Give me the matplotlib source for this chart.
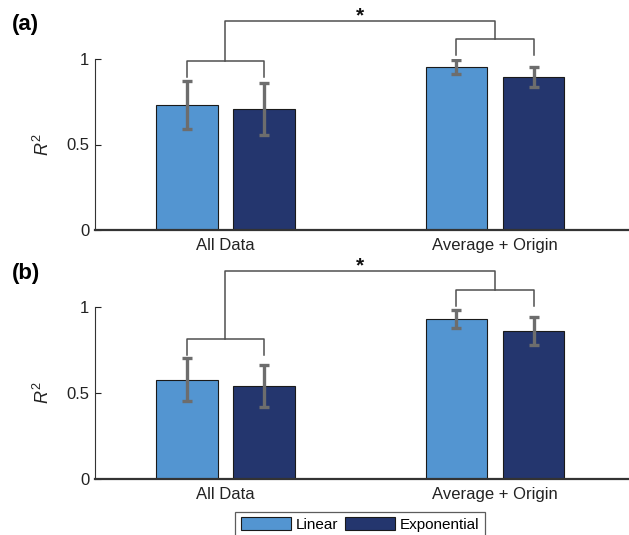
import numpy as np
import matplotlib
matplotlib.use("Agg")
import matplotlib.pyplot as plt

plt.rcParams['font.family'] = ['Liberation Sans', 'DejaVu Sans']
plt.rcParams['mathtext.fontset'] = 'custom'
plt.rcParams['mathtext.rm'] = 'Liberation Sans'
plt.rcParams['mathtext.it'] = 'Liberation Sans:italic'

# data
groups = ["All Data", "Average + Origin"]
series = ["Linear", "Exponential"]
colors = ["#5395d1", "#24366e"]

a_linear = [0.731, 0.953]
a_linear_err = [0.142, 0.042]
a_expo = [0.708, 0.895]
a_expo_err = [0.154, 0.060]

b_linear = [0.578, 0.934]
b_linear_err = [0.124, 0.052]
b_expo = [0.543, 0.864]
b_expo_err = [0.123, 0.082]

# significance brackets: pair brackets, their leg bottoms, joining bracket
a_brackets = dict(left=0.990, left_leg=0.896, right=1.115, right_leg=1.023, top=1.224)
b_brackets = dict(left=0.815, left_leg=0.722, right=1.103, right_leg=1.005, top=1.212)

W, H = 629, 535
fig = plt.figure(figsize=(W / 100, H / 100), dpi=100)

off = 0.143
width = 0.229
err_col = "#6d6d6d"
br_col = "#505050"


def panel(ax, lin, lin_err, exp, exp_err, br, tag):
    x = np.arange(1, len(groups) + 1)
    ax.bar(x - off, lin, width, color=colors[0], edgecolor="#1a1a1a", linewidth=0.8, label=series[0], zorder=2)
    ax.bar(x + off, exp, width, color=colors[1], edgecolor="#1a1a1a", linewidth=0.8, label=series[1], zorder=2)
    ax.errorbar(x - off, lin, yerr=lin_err, fmt="none", ecolor=err_col, elinewidth=2.4,
                capsize=3.8, capthick=2.4, zorder=3)
    ax.errorbar(x + off, exp, yerr=exp_err, fmt="none", ecolor=err_col, elinewidth=2.4,
                capsize=3.8, capthick=2.4, zorder=3)

    ax.set_xlim(0.516, 2.497)
    ax.set_ylim(0, 1)
    ax.set_yticks([0, 0.5, 1])
    ax.set_yticklabels(["0", "0.5", "1"])
    ax.set_xticks(x)
    ax.set_xticklabels(groups)
    ax.tick_params(axis="y", direction="in", length=4, width=0.8, pad=4, labelsize=12, colors="#222222")
    ax.tick_params(axis="x", length=0, pad=6, labelsize=12, colors="#222222")
    for s in ["top", "right"]:
        ax.spines[s].set_visible(False)
    ax.spines["left"].set_color("#333333")
    ax.spines["left"].set_linewidth(0.8)
    ax.spines["bottom"].set_color("#333333")
    ax.spines["bottom"].set_linewidth(1.6)

    ax.set_ylabel("$\\it{R}^2$", fontsize=13, color="#222222")
    ax.yaxis.set_label_coords(-0.078, 0.5)

    kw = dict(color=br_col, lw=1.1, clip_on=False, zorder=4)
    # bracket over first group
    ax.plot([1 - off, 1 - off, 1 + off, 1 + off], [br["left_leg"], br["left"], br["left"], br["left_leg"]], **kw)
    # bracket over second group
    ax.plot([2 - off, 2 - off, 2 + off, 2 + off], [br["right_leg"], br["right"], br["right"], br["right_leg"]], **kw)
    # joining bracket
    ax.plot([1, 1, 2, 2], [br["left"], br["top"], br["top"], br["right"]], **kw)
    ax.text(1.5, br["top"] - 0.028, "*", ha="center", va="bottom", fontsize=15, fontweight="bold",
            color="#111111", clip_on=False)

    ax.text(-0.155, 1.2, tag, transform=ax.transAxes, fontsize=16, fontweight="bold",
            ha="left", va="center")


ax1 = fig.add_axes([95 / W, (H - 230) / H, (W - 95) / W, 171 / H])
panel(ax1, a_linear, a_linear_err, a_expo, a_expo_err, a_brackets, "(a)")

ax2 = fig.add_axes([95 / W, (H - 478.7) / H, (W - 95) / W, 171.4 / H])
panel(ax2, b_linear, b_linear_err, b_expo, b_expo_err, b_brackets, "(b)")

handles, labels = ax2.get_legend_handles_labels()
leg = fig.legend(handles, labels, loc="upper center", bbox_to_anchor=(360 / W, (H - 511.7) / H),
                 ncol=2, fontsize=11, frameon=True, fancybox=False, handlelength=3.3,
                 handleheight=0.95, handletextpad=0.3, columnspacing=0.45, borderpad=0.35,
                 borderaxespad=0)
leg.get_frame().set_edgecolor("#333333")
leg.get_frame().set_linewidth(0.9)

fig.savefig("out.png", dpi=100)
